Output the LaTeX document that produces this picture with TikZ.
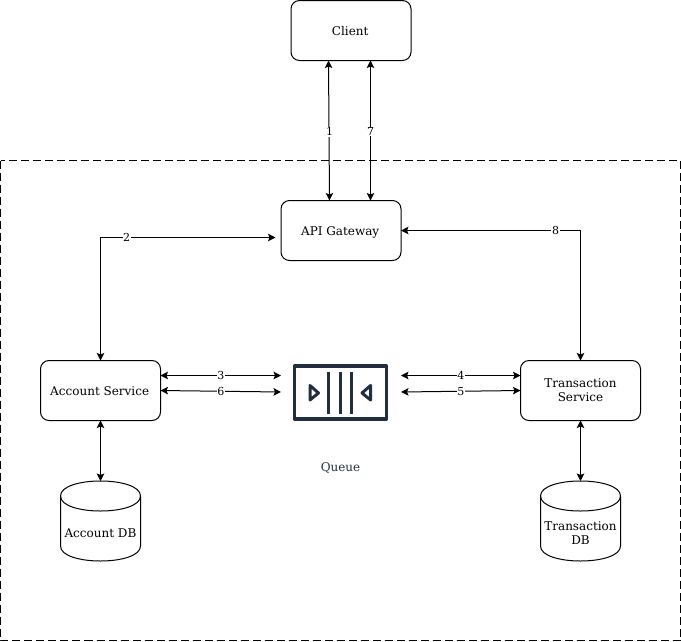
\documentclass[tikz,border=0pt]{standalone}
\usepackage{fontspec}
\setmainfont{DejaVu Serif}
\usetikzlibrary{arrows.meta,calc}
\definecolor{qcol}{HTML}{232F3E}
\tikzset{
  x=1pt,y=-1pt,
  box/.style={draw=black,line width=1pt,rounded corners=8.5pt,minimum width=120pt,minimum height=60pt,outer sep=0pt,inner sep=0pt,align=center,font=\fontsize{12}{14}\selectfont,text=black},
  oneline/.style={text height=9pt,text depth=0pt,execute at end node={\hspace*{1.6pt}}},
  dbbox/.style={minimum width=80pt,minimum height=80pt,outer sep=0pt,inner sep=0pt},
  dbtext/.style={align=center,font=\fontsize{12}{14}\selectfont,text=black,inner sep=0pt,yshift=-12pt},
  ghost/.style={minimum width=120pt,minimum height=60pt,outer sep=0pt,inner sep=0pt},
  conn/.style={line width=1pt,draw=black,{Stealth[length=7.5pt,width=7.5pt,inset=1.5pt]}-{Stealth[length=7.5pt,width=7.5pt,inset=1.5pt]}},
  lab/.style={fill=white,inner sep=0.6pt,font=\fontsize{11}{12}\selectfont,text=black},
  zone/.style={draw=black,line width=1pt,dash pattern=on 8pt off 4pt},
  dbline/.style={draw=black,line width=1pt},
  qline/.style={draw=qcol,line width=3.2pt},
  qtri/.style={draw=qcol,line width=3pt,line join=round},
}
\begin{document}
\begin{tikzpicture}
\useasboundingbox (0,0) rectangle (681,641);
\draw[zone] (0.5,160.5) rectangle (680.5,640.5);

\node[box,oneline] (client) at (351,30.5) {Client};
\node[box,oneline] (api) at (341,230.5) {API Gateway};
\node[box,oneline] (acc) at (100.5,390.5) {Account Service};
\node[box] (tx) at (580.5,390.5) {Transaction\\Service};
\node[dbbox,label={[dbtext]center:Account DB}] (adb) at (100.5,521) {};
\node[dbbox,label={[dbtext]center:Transaction\\DB}] (tdb) at (580.5,521) {};
\node[ghost] (queue) at (341,391) {};
\node[font=\fontsize{12}{14}\selectfont,text=qcol,inner sep=0pt] (qlabel) at (340.5,467.5) {Queue};

% database outlines
\foreach \n in {adb,tdb}{
  \draw[dbline] ($(\n.north west)+(0,15)$) .. controls ($(\n.north west)+(0,-5)$) and ($(\n.north east)+(0,-5)$) .. ($(\n.north east)+(0,15)$)
     -- ($(\n.south east)+(0,-15)$) .. controls ($(\n.south east)+(0,5)$) and ($(\n.south west)+(0,5)$) .. ($(\n.south west)+(0,-15)$) -- cycle;
  \draw[dbline] ($(\n.north west)+(0,15)$) .. controls ($(\n.north west)+(0,35)$) and ($(\n.north east)+(0,35)$) .. ($(\n.north east)+(0,15)$);
}

% queue icon
\draw[qline,line join=round] ($(queue.center)+(-46.5,-25)$) rectangle ($(queue.center)+(45.5,28)$);
\foreach \dx in {-12.3,-0.7,10.7}{
  \draw[qline,line width=3pt] ($(queue.center)+(\dx,-19.5)$) -- ($(queue.center)+(\dx,23)$);
}
\draw[qtri] ($(queue.center)+(-31,-5.5)$) -- ($(queue.center)+(-22.5,2)$) -- ($(queue.center)+(-31,9)$) -- cycle;
\draw[qtri] ($(queue.center)+(29.6,-5.5)$) -- ($(queue.center)+(21,2)$) -- ($(queue.center)+(29.6,9)$) -- cycle;

% connectors
\draw[conn] ([xshift=-22.5pt]client.south) -- node[lab,pos=0.51,xshift=0.5pt]{1} ([xshift=-11.5pt]api.north);
\draw[conn] ([xshift=19.5pt]client.south) -- node[lab,pos=0.505]{7} ([xshift=29.5pt]api.north);
\draw[conn] (acc.north) -- (acc.north |- 0,237.5) -- node[lab,pos=0.144,xshift=1pt]{2} ([xshift=-5.5pt,yshift=-7pt]api.west);
\draw[conn] (api.east) -- node[lab,pos=0.858,xshift=0.5pt]{8} (tx.north |- api.east) -- (tx.north);
\draw[conn] ([yshift=15pt]acc.east) -- node[lab]{3} ([yshift=15.5pt]queue.west);
\draw[conn] (acc.east) -- node[lab]{6} ([yshift=-1pt]queue.west);
\draw[conn] ([yshift=15.5pt]queue.east) -- node[lab]{4} ([yshift=15pt]tx.west);
\draw[conn] ([yshift=-1pt]queue.east) -- node[lab]{5} (tx.west);
\draw[conn] (acc.south) -- (adb.north);
\draw[conn] (tx.south) -- (tdb.north);
\end{tikzpicture}
\end{document}
